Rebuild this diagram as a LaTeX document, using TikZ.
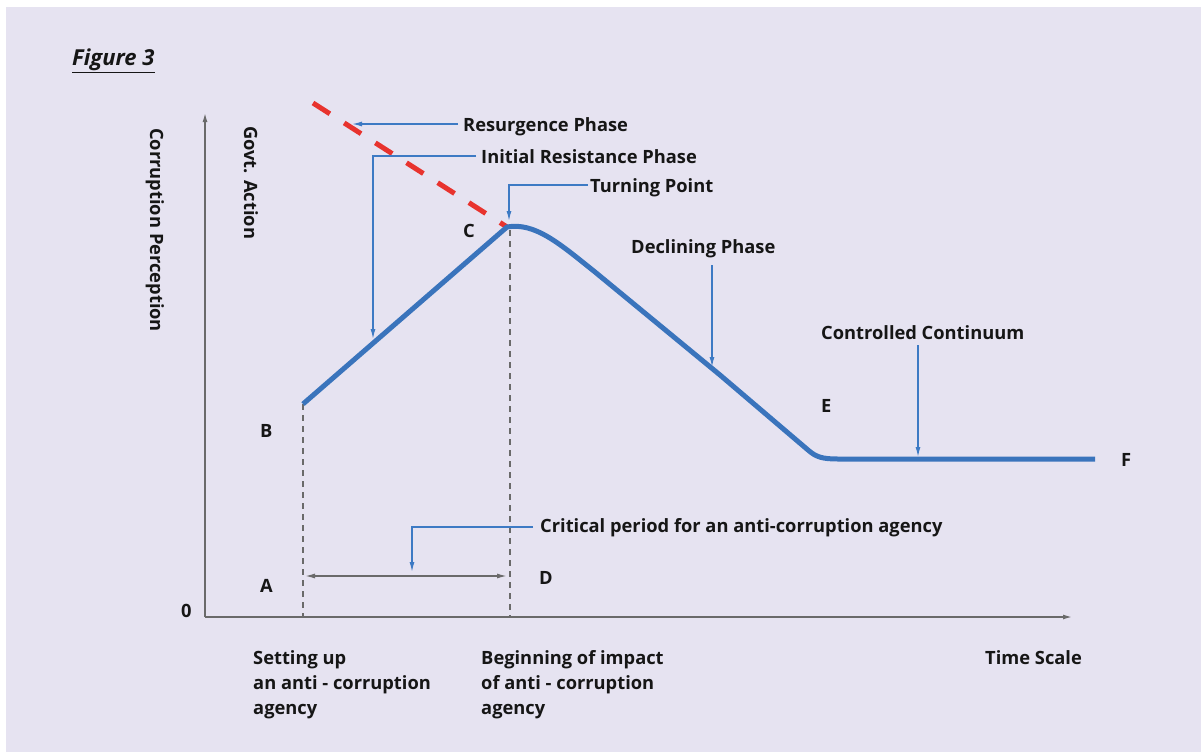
\documentclass[tikz,border=0pt]{standalone}
\usepackage{fontspec}
\setmainfont{Open Sans}
\usetikzlibrary{arrows.meta}
\definecolor{bgpaper}{HTML}{E6E3F1}
\definecolor{curveblue}{HTML}{3A74BC}
\definecolor{noteblue}{HTML}{3D7AC4}
\definecolor{redline}{HTML}{E8332E}
\definecolor{axisgray}{HTML}{6A6A6A}
\definecolor{ink}{HTML}{161616}
\begin{document}
\begin{tikzpicture}[x=1pt,y=-1pt,
  lbl/.style={inner sep=0pt,anchor=base west,text=ink,font=\fontsize{18.3}{25}\selectfont\bfseries},
  axisline/.style={draw=axisgray,line width=1.4pt,-{Latex[length=9pt,width=5pt]}},
  guide/.style={draw=axisgray,line width=1.2pt,dash pattern=on 6pt off 5pt},
  note/.style={draw=noteblue,line width=1.3pt,-{Latex[length=10pt,width=5pt]}},
  span/.style={draw=axisgray,line width=1.4pt,{Latex[length=10pt,width=5pt]}-{Latex[length=10pt,width=5pt]}}]
% page and panel
\useasboundingbox (0,0) rectangle (1201,752);
\fill[white] (0,0) rectangle (1201,752);
\fill[bgpaper] (6,7) rectangle (1201,752);

% title
\node[lbl,font=\fontsize{22}{24}\selectfont\bfseries\itshape] (title) at (72,66) {\underline{Figure 3}};

% axes
\coordinate (O) at (205,617);
\coordinate (Ytop) at (205,113);
\coordinate (Xend) at (1072,617);
\draw[axisline] (O) -- (Ytop);
\draw[axisline] (O) -- (Xend);
\node[lbl] (zero) at (181,617) {0};
\node[lbl,rotate=-90] (ylab) at (150,128) {Corruption Perception};
\node[lbl,rotate=-90] (govt) at (244,126) {Govt. Action};

% key points of the curve
\coordinate (Bpt) at (303,404);
\coordinate (Cpt) at (507,227);
\coordinate (Dbend) at (595,272);
\coordinate (Dmid) at (720,375);
\coordinate (Eknee) at (808,450);
\coordinate (Fend) at (1095,459);
\coordinate (Afoot) at (303,617);
\coordinate (Dfoot) at (510,617);

% dashed guides
\draw[guide] (Bpt) -- (Afoot);
\draw[guide] (510,230) -- (Dfoot);

% resurgence (red dashed)
\coordinate (Rstart) at (313,103);
\draw[redline,line width=5pt,dash pattern=on 20pt off 17pt] (Rstart) -- (Cpt);

% main curve
\draw[curveblue,line width=5pt]
  (Bpt) -- (Cpt) .. controls (535,222) and (560,244) .. (Dbend) -- (Dmid)
  -- (Eknee) .. controls (816,457) and (822,459) .. (838,459) -- (Fend);

% point letters
\node[lbl] (B) at (260,437) {B};
\node[lbl] (C) at (463,237) {C};
\node[lbl] (A) at (260,592) {A};
\node[lbl] (D) at (539,584) {D};
\node[lbl] (E) at (821,412) {E};
\node[lbl] (F) at (1121,466) {F};

% annotations
\node[lbl] (res) at (463,131) {Resurgence Phase};
\coordinate (resTip) at (352,124);
\draw[note] (458,124) -- (resTip);

\node[lbl] (ini) at (481,163) {Initial Resistance Phase};
\coordinate (iniTip) at (373,339);
\draw[note] (476,156) -| (iniTip);

\node[lbl] (turn) at (590,192) {Turning Point};
\coordinate (turnTip) at (509,221);
\draw[note] (588,185) -| (turnTip);

\node[lbl] (dec) at (631,253) {Declining Phase};
\coordinate (decTip) at (712,367);
\draw[note] (712,265) -- (decTip);

\node[lbl] (cc) at (821,339) {Controlled Continuum};
\coordinate (ccTip) at (918,457);
\draw[note] (918,345) -- (ccTip);

\node[lbl] (crit) at (540,532) {Critical period for an anti-corruption agency};
\coordinate (critTip) at (412,572);
\draw[note] (533,527) -| (critTip);

% critical span
\coordinate (spanL) at (305,576);
\coordinate (spanR) at (507,576);
\draw[span] (spanL) -- (spanR);

% time axis captions
\node[lbl,align=left] (setup) at (253,714) {Setting up\\an anti - corruption\\agency};
\node[lbl,align=left] (begin) at (481,714) {Beginning of impact\\of anti - corruption\\agency};
\node[lbl] (time) at (985,664) {Time Scale};
\end{tikzpicture}
\end{document}
